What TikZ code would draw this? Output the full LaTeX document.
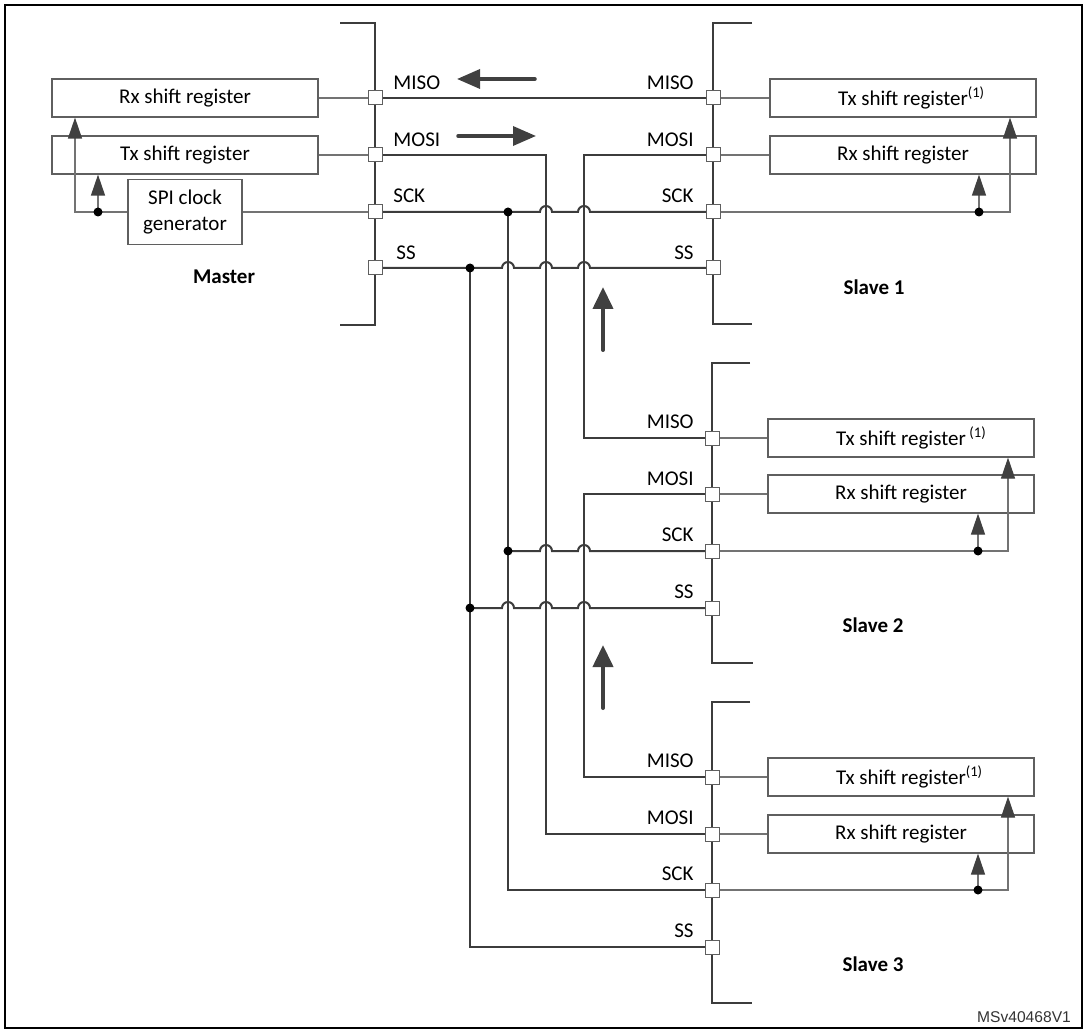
\documentclass[tikz,border=0pt]{standalone}
\usepackage{fontspec}
\setmainfont{Carlito}
\newfontfamily\arialfont{Liberation Sans}
\usetikzlibrary{arrows.meta}
\definecolor{wirec}{RGB}{60,60,60}
\definecolor{thinc}{RGB}{115,115,115}
\definecolor{boxc}{RGB}{95,95,95}
\definecolor{arrc}{RGB}{64,64,64}
\newcommand\hop[2]{-- ({#1-6},#2) arc[start angle=180,end angle=0,radius=3pt]}
\begin{document}
\begin{tikzpicture}[x=0.5pt,y=-0.5pt,
  wire/.style={draw=wirec,line width=1pt},
  thinln/.style={draw=thinc,line width=0.6pt},
  reg/.style={draw=boxc,line width=0.6pt,minimum width=133pt,minimum height=19pt,inner sep=0pt,font=\fontsize{10.5}{13}\selectfont},
  pinbox/.style={draw=boxc,fill=white,line width=0.5pt,minimum size=7pt,inner sep=0pt},
  jdot/.style={circle,fill=black,minimum size=4.5pt,inner sep=0pt},
  lbl/.style={inner sep=0pt,font=\fontsize{10.5}{13}\selectfont},
  title/.style={inner sep=0pt,font=\fontsize{10.5}{13}\selectfont\bfseries},
  clkarr/.style={-{Triangle[width=7pt,length=10.5pt,color=arrc]}},
  bigarr/.style={draw=arrc,line width=1.75pt,line cap=round,-{Triangle[width=9.5pt,length=11.5pt]}},
  uparr/.style={draw=arrc,line width=2pt,line cap=round,-{Triangle[width=10pt,length=11pt]}}
]
\useasboundingbox (0,0) rectangle (1085,1031);
\draw[black,line width=1pt] (5,5) rectangle (1082,1028);

% ---------- brackets ----------
\draw[wire] (340,23) -- (375,23) -- (375,325) -- (340,325);
\draw[wire] (752,23) -- (713,23) -- (713,324) -- (752,324);
\draw[wire] (750,363) -- (712,363) -- (712,663) -- (753,663);
\draw[wire] (750,702) -- (712,702) -- (712,1003) -- (752,1003);

% ---------- pins ----------
\coordinate (mp1) at (375,98);  \coordinate (mp2) at (375,155);
\coordinate (mp3) at (375,212); \coordinate (mp4) at (375,268);
\coordinate (s1p1) at (713,98);  \coordinate (s1p2) at (713,155);
\coordinate (s1p3) at (713,212); \coordinate (s1p4) at (713,268);
\coordinate (s2p1) at (712,438); \coordinate (s2p2) at (712,494);
\coordinate (s2p3) at (712,551); \coordinate (s2p4) at (712,608);
\coordinate (s3p1) at (712,777); \coordinate (s3p2) at (712,834);
\coordinate (s3p3) at (712,890); \coordinate (s3p4) at (712,947);

% ---------- master ----------
\node[reg] (mrx) at (185,98) {Rx shift register};
\node[reg] (mtx) at (185,155) {Tx shift register};
\node[reg,minimum width=57pt,minimum height=32.5pt,align=center] (mclk) at (185,212) {SPI clock\\generator};
\coordinate (mk) at (75,212); \coordinate (md) at (98,212);
\draw[thinln] (mrx.east) -- (mp1);
\draw[thinln] (mtx.east) -- (mp2);
\draw[thinln] (mclk.east) -- (mp3);
\draw[thinln,clkarr] (mclk.west) -- (mk) -- (mk |- mrx.south);
\draw[thinln,clkarr] (md) -- (md |- mtx.south);
\node[jdot] (mdj) at (md) {};
\node[title] (mname) at (224,277) {Master};

% ---------- slaves ----------
\node[reg] (s1tx) at (903,98) {Tx shift register\rlap{\textsuperscript{(1)}}};
\node[reg] (s1rx) at (903,155) {Rx shift register};
\node[reg] (s2tx) at (901,438) {Tx shift register\rlap{\,\textsuperscript{(1)}}};
\node[reg] (s2rx) at (901,494) {Rx shift register};
\node[reg] (s3tx) at (901,777) {Tx shift register\rlap{\textsuperscript{(1)}}};
\node[reg] (s3rx) at (901,834) {Rx shift register};
\coordinate (s1k) at (1010,212); \coordinate (s1d) at (979,212);
\coordinate (s2k) at (1008,551); \coordinate (s2d) at (978,551);
\coordinate (s3k) at (1008,890); \coordinate (s3d) at (978,890);
\foreach \s in {1,2,3}{
  \draw[thinln] (s\s p1) -- (s\s tx.west);
  \draw[thinln] (s\s p2) -- (s\s rx.west);
  \draw[thinln,clkarr] (s\s p3) -- (s\s k) -- (s\s k |- s\s tx.south);
  \draw[thinln,clkarr] (s\s d) -- (s\s d |- s\s rx.south);
  \node[jdot] at (s\s d) {};
}
\node[title] (s1name) at (874,287) {Slave 1};
\node[title] (s2name) at (873,625) {Slave 2};
\node[title] (s3name) at (873,964) {Slave 3};

% ---------- bus wires ----------
\draw[wire] (mp1) -- (s1p1);
\draw[wire] (mp2) -- (546,155) |- (s3p2);
\draw[wire] (mp3) \hop{546}{212} \hop{584}{212} -- (s1p3);
\draw[wire] (508,212) |- (s3p3);
\draw[wire] (508,551) \hop{546}{551} \hop{584}{551} -- (s2p3);
\draw[wire] (mp4) \hop{508}{268} \hop{546}{268} \hop{584}{268} -- (s1p4);
\draw[wire] (470,268) |- (s3p4);
\draw[wire] (470,608) \hop{508}{608} \hop{546}{608} \hop{584}{608} -- (s2p4);
\draw[wire] (s1p2) -- (584,155) |- (s2p1);
\draw[wire] (s2p2) -- (584,494) |- (s3p1);
\node[jdot] (j1) at (508,212) {};
\node[jdot] (j2) at (470,268) {};
\node[jdot] (j3) at (508,551) {};
\node[jdot] (j4) at (470,608) {};

% pin squares on top
\foreach \p in {mp1,mp2,mp3,mp4,s1p1,s1p2,s1p3,s1p4,s2p1,s2p2,s2p3,s2p4,s3p1,s3p2,s3p3,s3p4}
  \node[pinbox] at (\p) {};

% ---------- data-flow arrows ----------
\draw[bigarr] (535,79) -- (457,79);
\draw[bigarr] (458,136) -- (536,136);
\draw[uparr] (603,350) -- (603,287);
\draw[uparr] (603,708) -- (603,645);

% ---------- pin labels ----------
\node[lbl,anchor=west] at (393,83) {MISO};
\node[lbl,anchor=west] at (393,140) {MOSI};
\node[lbl,anchor=west] at (393,196) {SCK};
\node[lbl,anchor=west] at (396,253) {SS};
\foreach \y in {0,339,678}{
  \node[lbl,anchor=east] at (694,83+\y) {MISO};
  \node[lbl,anchor=east] at (694,140+\y) {MOSI};
  \node[lbl,anchor=east] at (694,196+\y) {SCK};
  \node[lbl,anchor=east] at (694,253+\y) {SS};
}

\node[inner sep=0pt,font=\arialfont\fontsize{7.8}{9}\selectfont,text=black!80] (code) at (1024,1017) {MSv40468V1};
\end{tikzpicture}
\end{document}
